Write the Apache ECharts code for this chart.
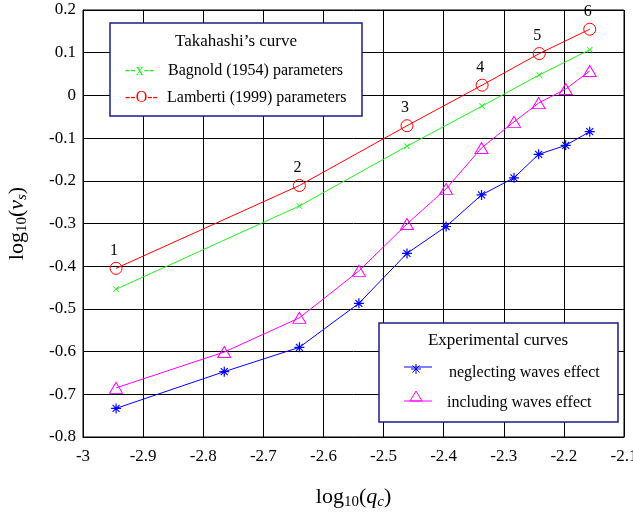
<!DOCTYPE html>
<html>
<head>
<meta charset="utf-8">
<script src="https://cdn.jsdelivr.net/npm/echarts@6/dist/echarts.min.js"></script>
<style>html,body{margin:0;padding:0;background:#fff;}#c{width:633px;height:513px;}</style>
</head>
<body>
<div id="c"></div>
<script>
// Theoretical (Takahashi) curves
const xTheory = [-2.945, -2.64, -2.461, -2.336, -2.241, -2.157];
const yLamberti = [-0.405, -0.211, -0.071, 0.024, 0.098, 0.155];
const yBagnold = [-0.454, -0.259, -0.119, -0.025, 0.048, 0.107];
const pointLabels = ['1', '2', '3', '4', '5', '6'];
// Experimental curves
const xExp = [-2.945, -2.765, -2.64, -2.541, -2.461, -2.396, -2.337, -2.283, -2.242, -2.197, -2.157];
const yNeglect = [-0.733, -0.647, -0.590, -0.487, -0.370, -0.307, -0.233, -0.193, -0.138, -0.117, -0.085];
const yIncluding = [-0.685, -0.601, -0.521, -0.411, -0.301, -0.219, -0.123, -0.062, -0.018, 0.015, 0.057];
// Axis ticks
const xTicks = {min: -3, max: -2.1, step: 0.1};
const yTicks = {min: -0.8, max: 0.2, step: 0.1};

const SERIF = '"Liberation Serif", "DejaVu Serif", serif';
const STAR = 'M-0.6,-5L0.6,-5L0.6,5L-0.6,5Z M-5,-0.6L5,-0.6L5,0.6L-5,0.6Z M-3.9,-3.1L-3.1,-3.9L3.9,3.1L3.1,3.9Z M3.1,-3.9L3.9,-3.1L-3.1,3.9L-3.9,3.1Z';
const XMARK = 'M-3.9,-3.1L-3.1,-3.9L3.9,3.1L3.1,3.9Z M3.1,-3.9L3.9,-3.1L-3.1,3.9L-3.9,3.1Z';

function zip(xs, ys) { return xs.map((x, i) => [x, ys[i]]); }

function starLines(cx, cy, r, color) {
  const d = r * 0.72;
  const segs = [[0, -r, 0, r], [-r, 0, r, 0], [-d, -d, d, d], [-d, d, d, -d]];
  return segs.map(s => ({type: 'line', z: 102, shape: {x1: cx + s[0], y1: cy + s[1], x2: cx + s[2], y2: cy + s[3]}, style: {stroke: color, lineWidth: 1}}));
}

const chart = echarts.init(document.getElementById('c'), null, {renderer: 'canvas'});
const nameRich = {
  n: {fontFamily: SERIF, fontSize: 22, lineHeight: 26, color: '#000'},
  i: {fontFamily: SERIF, fontSize: 22, lineHeight: 26, fontStyle: 'italic', color: '#000'},
  s: {fontFamily: SERIF, fontSize: 15, lineHeight: 15, verticalAlign: 'bottom', color: '#000'},
  si: {fontFamily: SERIF, fontSize: 15, lineHeight: 15, verticalAlign: 'bottom', fontStyle: 'italic', color: '#000'}
};
const option = {
  backgroundColor: '#fff',
  animation: false,
  grid: {left: 83, right: 9, top: 10, bottom: 76, show: true, borderColor: '#000', borderWidth: 1, containLabel: false, outerBoundsMode: 'none'},
  xAxis: {
    type: 'value', min: xTicks.min, max: xTicks.max, interval: xTicks.step,
    name: '{n|log}{s|10}{n|(}{i|q}{si|c}{n|)}',
    nameLocation: 'middle', nameGap: 47,
    nameTextStyle: {rich: nameRich},
    axisLine: {show: true, onZero: false, lineStyle: {color: '#000', width: 1}},
    axisTick: {show: false},
    axisLabel: {fontFamily: SERIF, fontSize: 17, color: '#000', margin: 11},
    splitLine: {show: true, lineStyle: {color: '#000', width: 1}}
  },
  yAxis: {
    type: 'value', min: yTicks.min, max: yTicks.max, interval: yTicks.step,
    name: '{n|log}{s|10}{n|(}{i|v}{si|s}{n|)}',
    nameLocation: 'middle', nameGap: 53, nameRotate: 90,
    nameTextStyle: {rich: nameRich},
    axisLine: {show: true, onZero: false, lineStyle: {color: '#000', width: 1}},
    axisTick: {show: false},
    axisLabel: {fontFamily: SERIF, fontSize: 17, color: '#000', margin: 7, padding: [8, 0, 0, 0]},
    splitLine: {show: true, lineStyle: {color: '#000', width: 1}}
  },
  series: [
    {
      type: 'line', data: zip(xTheory, yBagnold),
      symbol: 'path://' + XMARK, symbolSize: 6,
      itemStyle: {color: '#22ee22', borderWidth: 0},
      lineStyle: {color: '#22ee22', width: 1}, z: 3
    },
    {
      type: 'line', data: zip(xTheory, yLamberti),
      symbol: 'circle', symbolSize: 12,
      itemStyle: {color: 'rgba(0,0,0,0)', borderColor: '#ff0000', borderWidth: 1},
      lineStyle: {color: '#ff0000', width: 1},
      label: {
        show: true, position: 'top', distance: 3, offset: [-2, 0],
        fontFamily: SERIF, fontSize: 16, color: '#000',
        formatter: p => pointLabels[p.dataIndex]
      }, z: 4
    },
    {
      type: 'line', data: zip(xExp, yIncluding),
      symbol: 'triangle', symbolSize: [13, 11],
      itemStyle: {color: 'rgba(0,0,0,0)', borderColor: '#ff00ff', borderWidth: 1},
      lineStyle: {color: '#ff00ff', width: 1}, z: 3
    },
    {
      type: 'line', data: zip(xExp, yNeglect),
      symbol: 'path://' + STAR, symbolSize: 10,
      itemStyle: {color: '#0000ff', borderWidth: 0},
      lineStyle: {color: '#0000ff', width: 1}, z: 3
    }
  ],
  graphic: [
    {type: 'rect', z: 100, shape: {x: 110, y: 23, width: 252, height: 93}, style: {fill: '#fff', stroke: '#1c1c8a', lineWidth: 1.5}},
    {type: 'text', z: 101, x: 236, y: 42, style: {text: 'Takahashi’s curve', font: '17px ' + SERIF, fill: '#000', align: 'center', verticalAlign: 'middle'}},
    {type: 'text', z: 101, x: 125, y: 71, style: {text: '--x--', font: '16px ' + SERIF, fill: '#22ee22', align: 'left', verticalAlign: 'middle'}},
    {type: 'text', z: 101, x: 168, y: 71, style: {text: 'Bagnold (1954) parameters', font: '16px ' + SERIF, fill: '#000', align: 'left', verticalAlign: 'middle'}},
    {type: 'text', z: 101, x: 125, y: 98, style: {text: '--O--', font: '16px ' + SERIF, fill: '#ff0000', align: 'left', verticalAlign: 'middle'}},
    {type: 'text', z: 101, x: 167, y: 98, style: {text: 'Lamberti (1999) parameters', font: '16px ' + SERIF, fill: '#000', align: 'left', verticalAlign: 'middle'}},

    {type: 'rect', z: 100, shape: {x: 379, y: 323, width: 239, height: 99}, style: {fill: '#fff', stroke: '#1c1c8a', lineWidth: 1.5}},
    {type: 'text', z: 101, x: 498, y: 341, style: {text: 'Experimental curves', font: '17px ' + SERIF, fill: '#000', align: 'center', verticalAlign: 'middle'}},
    {type: 'line', z: 101, shape: {x1: 404, y1: 367, x2: 432, y2: 367}, style: {stroke: '#0000ff', lineWidth: 1}},
    ...starLines(416, 369, 5, '#0000ff'),
    {type: 'text', z: 101, x: 449, y: 373, style: {text: 'neglecting waves effect', font: '16px ' + SERIF, fill: '#000', align: 'left', verticalAlign: 'middle'}},
    {type: 'line', z: 101, shape: {x1: 404, y1: 401, x2: 432, y2: 401}, style: {stroke: '#ff00ff', lineWidth: 1}},
    {type: 'polygon', z: 102, shape: {points: [[410, 401], [422, 401], [416, 391]]}, style: {fill: 'none', stroke: '#ff00ff', lineWidth: 1}},
    {type: 'text', z: 101, x: 447, y: 403, style: {text: 'including waves effect', font: '16px ' + SERIF, fill: '#000', align: 'left', verticalAlign: 'middle'}}
  ]
};
chart.setOption(option);
</script>
</body>
</html>
